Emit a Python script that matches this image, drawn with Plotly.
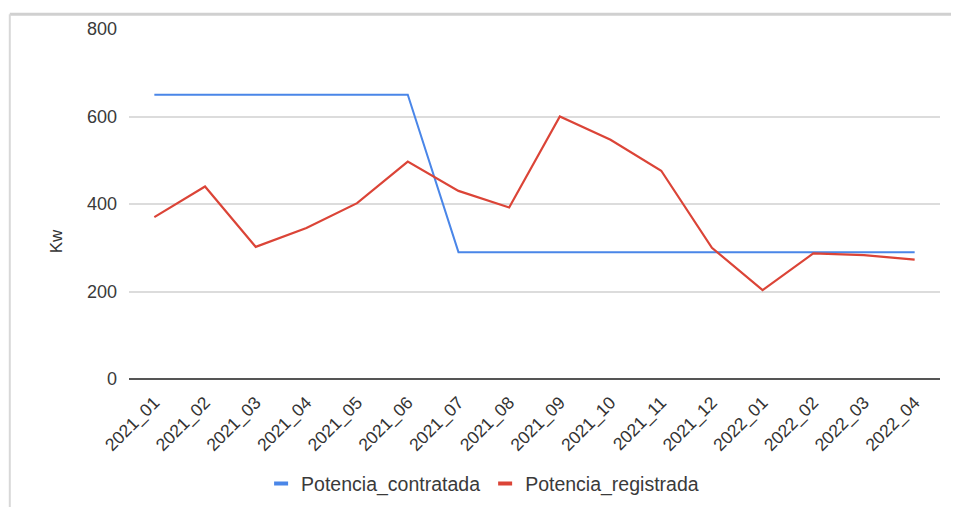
import plotly.graph_objects as go

months = ["2021_01", "2021_02", "2021_03", "2021_04", "2021_05", "2021_06", "2021_07", "2021_08",
          "2021_09", "2021_10", "2021_11", "2021_12", "2022_01", "2022_02", "2022_03", "2022_04"]
potencia_contratada = [650, 650, 650, 650, 650, 650, 290, 290, 290, 290, 290, 290, 290, 290, 290, 290]
potencia_registrada = [370, 440, 302, 345, 402, 497, 430, 392, 600, 547, 476, 300, 203, 287, 283, 273]
y_ticks = [0, 200, 400, 600, 800]

blue = "#4a86e8"
red = "#db4437"

fig = go.Figure()
fig.add_trace(go.Scatter(x=months, y=potencia_contratada, mode="lines", name="Potencia_contratada",
                         line=dict(color=blue, width=2), showlegend=False))
fig.add_trace(go.Scatter(x=months, y=potencia_registrada, mode="lines", name="Potencia_registrada",
                         line=dict(color=red, width=2.2), showlegend=False))
# legend entries (short thick line symbols)
for name, col in [("Potencia_contratada", blue), ("Potencia_registrada", red)]:
    fig.add_trace(go.Scatter(x=[None], y=[None], mode="markers", name=name,
                             marker=dict(symbol="line-ew", size=10, color=col,
                                         line=dict(color=col, width=4))))

font_family = "Liberation Sans, Arial, sans-serif"
fig.update_layout(
    width=959, height=507,
    margin=dict(l=121, r=27, t=21, b=132),
    paper_bgcolor="white", plot_bgcolor="white",
    font=dict(family=font_family, size=17, color="#3a3a3a"),
    showlegend=True,
    legend=dict(orientation="h", x=0.436, xanchor="center", y=-0.2994, yanchor="middle",
                font=dict(size=19.5, color="#3a3a3a"), itemwidth=30, tracegroupgap=0),
    xaxis=dict(type="category", range=[-0.5, 15.5], tickangle=-45, showgrid=False,
               showline=False, ticks="", ticklabelstandoff=9,
               tickfont=dict(size=17.5, color="#333"), zeroline=False),
    yaxis=dict(range=[0, 800], tickvals=y_ticks, showgrid=True, gridcolor="#dcdcdc",
               gridwidth=1.5, zeroline=True, zerolinecolor="#555", zerolinewidth=1.8,
               ticks="", ticklabelstandoff=11, tickfont=dict(size=18, color="#3a3a3a")),
    annotations=[dict(text="Kw", x=-0.1036, y=0.395, xref="paper", yref="paper",
                      textangle=-90, showarrow=False, font=dict(size=17, color="#333"))],
    shapes=[
        dict(type="line", xref="paper", yref="paper", x0=-0.147, x1=1.05, y0=1.042, y1=1.042,
             line=dict(color="#d0d0d0", width=3)),
        dict(type="line", xref="paper", yref="paper", x0=-0.147, x1=-0.147, y0=1.042, y1=-0.45,
             line=dict(color="#d8d8d8", width=2)),
    ],
)

fig.write_html("out.html")
